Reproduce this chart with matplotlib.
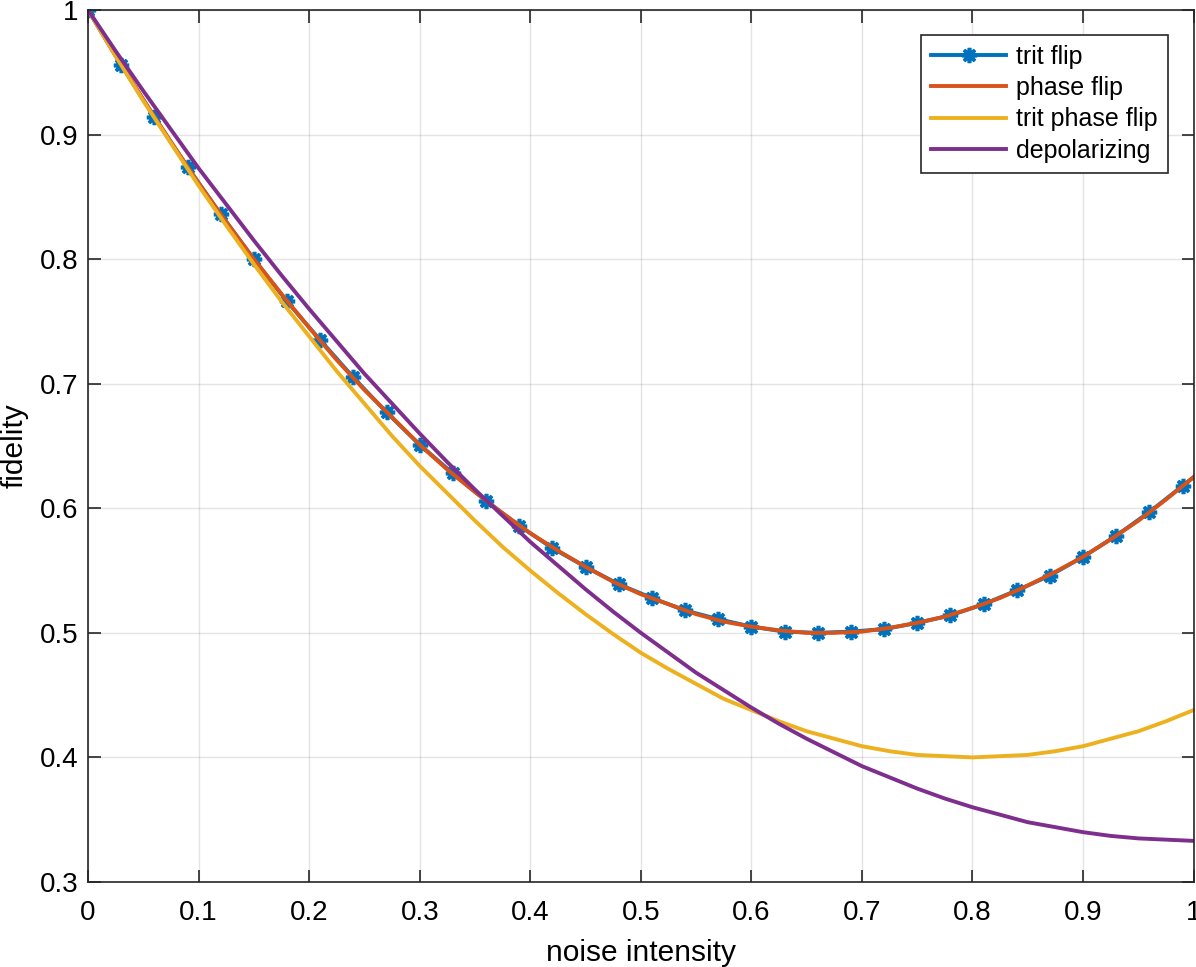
import numpy as np
import matplotlib
matplotlib.use('Agg')
import matplotlib.pyplot as plt

plt.rcParams['font.family'] = ['Liberation Sans', 'DejaVu Sans']

# trit flip, sampled where the markers sit (last point has no marker)
x_trit = [0.00, 0.03, 0.06, 0.09, 0.12, 0.15, 0.18, 0.21, 0.24, 0.27, 0.30,
          0.33, 0.36, 0.39, 0.42, 0.45, 0.48, 0.51, 0.54, 0.57, 0.60, 0.63,
          0.66, 0.69, 0.72, 0.75, 0.78, 0.81, 0.84, 0.87, 0.90, 0.93, 0.96,
          0.99, 1.00]
trit_flip = [1.000, 0.956, 0.914, 0.874, 0.836, 0.800, 0.766, 0.735, 0.705,
             0.677, 0.651, 0.628, 0.606, 0.586, 0.568, 0.553, 0.539, 0.528,
             0.518, 0.511, 0.505, 0.501, 0.500, 0.501, 0.503, 0.508, 0.514,
             0.523, 0.534, 0.546, 0.561, 0.578, 0.597, 0.618, 0.625]

x = [0.000, 0.025, 0.050, 0.075, 0.100, 0.125, 0.150, 0.175, 0.200, 0.225,
     0.250, 0.275, 0.300, 0.325, 0.350, 0.375, 0.400, 0.425, 0.450, 0.475,
     0.500, 0.525, 0.550, 0.575, 0.600, 0.625, 0.650, 0.675, 0.700, 0.725,
     0.750, 0.775, 0.800, 0.825, 0.850, 0.875, 0.900, 0.925, 0.950, 0.975,
     1.000]
phase_flip = [1.000, 0.963, 0.928, 0.894, 0.861, 0.830, 0.800, 0.772, 0.745,
              0.719, 0.695, 0.673, 0.651, 0.631, 0.613, 0.596, 0.580, 0.566,
              0.553, 0.541, 0.531, 0.523, 0.515, 0.509, 0.505, 0.502, 0.500,
              0.500, 0.501, 0.504, 0.508, 0.513, 0.520, 0.528, 0.538, 0.549,
              0.561, 0.575, 0.590, 0.607, 0.625]
trit_phase_flip = [1.000, 0.963, 0.927, 0.893, 0.859, 0.827, 0.796, 0.766,
                   0.738, 0.710, 0.684, 0.658, 0.634, 0.612, 0.590, 0.569,
                   0.550, 0.532, 0.515, 0.499, 0.484, 0.471, 0.459, 0.447,
                   0.438, 0.429, 0.421, 0.415, 0.409, 0.405, 0.402, 0.401,
                   0.400, 0.401, 0.402, 0.405, 0.409, 0.415, 0.421, 0.429,
                   0.438]
depolarizing = [1.000, 0.967, 0.935, 0.904, 0.873, 0.844, 0.815, 0.787, 0.760,
                0.734, 0.708, 0.684, 0.660, 0.637, 0.615, 0.594, 0.573, 0.554,
                0.535, 0.517, 0.500, 0.484, 0.468, 0.454, 0.440, 0.427, 0.415,
                0.404, 0.393, 0.384, 0.375, 0.367, 0.360, 0.354, 0.348, 0.344,
                0.340, 0.337, 0.335, 0.334, 0.333]

xticks = np.arange(0, 1.01, 0.1)
yticks = np.arange(0.3, 1.01, 0.1)

fig = plt.figure(figsize=(11.96, 9.67), dpi=100)
ax = fig.add_axes([0.0736, 0.0879, 0.9244, 0.9018])

lw = 2.8
ax.plot(x_trit, trit_flip, color='#0072BD', lw=lw, marker=(8, 2, 0),
        markersize=11, mew=2.6, markevery=list(range(len(x_trit) - 1)),
        label='trit flip', solid_joinstyle='round')
ax.plot(x, phase_flip, color='#D95319', lw=lw, label='phase flip',
        solid_joinstyle='round')
ax.plot(x, trit_phase_flip, color='#EDB120', lw=lw, label='trit phase flip',
        solid_joinstyle='round')
ax.plot(x, depolarizing, color='#7E2F8E', lw=lw, label='depolarizing',
        solid_joinstyle='round')

ax.set_xlim(0, 1)
ax.set_ylim(0.3, 1)
ax.set_xticks(xticks)
ax.set_yticks(yticks)
ax.set_xticklabels(['0', '0.1', '0.2', '0.3', '0.4', '0.5', '0.6', '0.7',
                    '0.8', '0.9', '1'])
ax.set_yticklabels(['0.3', '0.4', '0.5', '0.6', '0.7', '0.8', '0.9', '1'])
ax.grid(True, color='#262626', alpha=0.12, lw=1)
ax.tick_params(direction='in', length=9, width=1.2, top=True, right=True,
               labelsize=20, colors='#262626', labelcolor='black')
ax.tick_params(axis='x', pad=13)
ax.tick_params(axis='y', pad=7)
for s in ax.spines.values():
    s.set_color('#262626')
    s.set_linewidth(1.2)
ax.set_xlabel('noise intensity', fontsize=21.5, labelpad=9)
ax.set_ylabel('fidelity', fontsize=21.5, labelpad=8)

leg = ax.legend(loc='upper right', bbox_to_anchor=(0.9765, 0.9715),
                fontsize=18, frameon=True, fancybox=False,
                handlelength=3.0, handletextpad=0.4, borderpad=0.4,
                labelspacing=0.29, borderaxespad=0)
leg.get_frame().set_edgecolor('#262626')
leg.get_frame().set_linewidth(1.2)
leg.get_frame().set_alpha(1)

fig.savefig('out.png', dpi=100)
